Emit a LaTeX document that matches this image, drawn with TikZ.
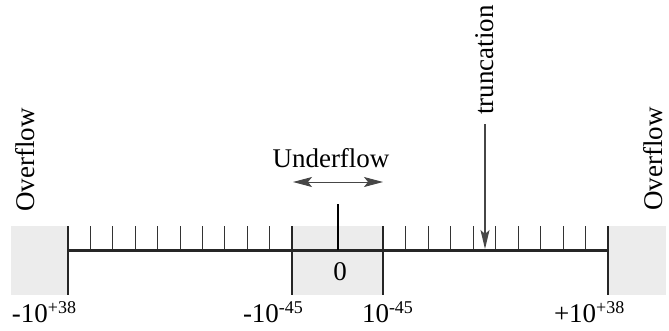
\documentclass[tikz,border=0pt]{standalone}
\usepackage{fontspec}
\setmainfont{Liberation Serif}
\usetikzlibrary{arrows.meta}
\newcommand{\upsc}[1]{\raisebox{8.5pt}{\fontsize{18}{18}\selectfont #1}}
\definecolor{zonegray}{RGB}{236,236,236}
\definecolor{arrowgray}{RGB}{70,70,70}
\begin{document}
\begin{tikzpicture}[x=1pt,y=-1pt,
  txt/.style={inner sep=0pt,outer sep=0pt,font=\fontsize{27}{30}\selectfont},
  zone/.style={fill=zonegray,draw=none},
  axis/.style={line width=3pt,black!85},
  bound/.style={line width=2.6pt,black!85},
  tickline/.style={line width=1pt,black!80},
  tip/.style={-{Stealth[length=19pt,width=9pt,inset=4pt]}}]
\useasboundingbox (0,0) rectangle (669,330);
% gray zones
\fill[zone] (11,226) rectangle (68,295);
\fill[zone] (292,226) rectangle (383,295);
\fill[zone] (608,226) rectangle (666,295);
% named points
\coordinate (a1) at (68,250);
\coordinate (a2) at (292,250);
\coordinate (a3) at (383,250);
\coordinate (a4) at (608,250);
% ticks
\foreach \k in {1,...,9}{
  \draw[tickline] ({68+22.4*\k},226) -- ({68+22.4*\k},250);
  \draw[tickline] ({383+22.5*\k},226) -- ({383+22.5*\k},250);
}
% axis
\draw[axis] (a1) -- (a4);
% boundaries
\draw[bound] (68,226) -- (68,295);
\draw[bound] (292,226) -- (292,295);
\draw[bound] (383,226) -- (383,295);
\draw[bound] (608,226) -- (608,295);
% center line
\coordinate (ctop) at (338,204);
\coordinate (cbot) at (338,250);
\draw[line width=1.1pt] (ctop) -- (cbot);
% underflow
\node[txt,anchor=base] (uf) at (331,167) {Underflow};
\coordinate (ufl) at (293,182);
\coordinate (ufr) at (383,182);
\draw[line width=1pt,arrowgray,{Stealth[length=19pt,width=10pt,inset=4pt]}-{Stealth[length=19pt,width=10pt,inset=4pt]}] (ufl) -- (ufr);
% truncation
\node[txt,anchor=base,rotate=90] (tr) at (493,60) {truncation};
\coordinate (trtop) at (485,124);
\coordinate (trtip) at (485,249);
\draw[line width=1.2pt,arrowgray,tip] (trtop) -- (trtip);
% overflow
\node[txt,anchor=base,rotate=90] (ofl) at (34,160) {Overflow};
\node[txt,anchor=base,rotate=90] (ofr) at (662,159) {Overflow};
% zero
\node[txt,anchor=base] (zero) at (340,280) {0};
% labels
\node[txt,anchor=base west] (l1) at (12,322) {-10\upsc{+38}};
\node[txt,anchor=base west] (l2) at (243,322) {-10\upsc{-45}};
\node[txt,anchor=base west] (l3) at (362,322) {10\upsc{-45}};
\node[txt,anchor=base west] (l4) at (554,322) {+10\upsc{+38}};
\end{tikzpicture}
\end{document}
